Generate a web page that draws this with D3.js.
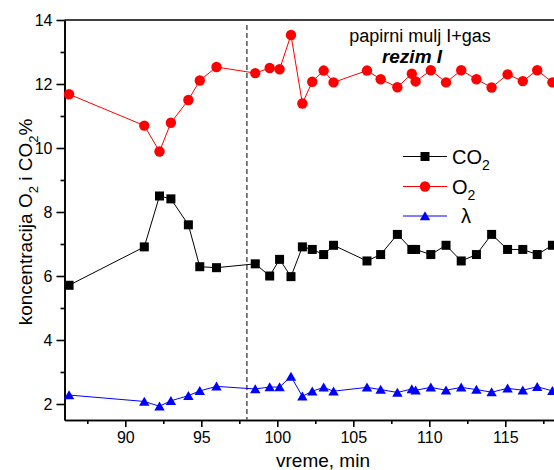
<!DOCTYPE html>
<html>
<head>
<meta charset="utf-8">
<script src="https://cdn.jsdelivr.net/npm/d3@7"></script>
<style>
  body { margin: 0; background: #fff; }
  svg { display: block; font-family: "Liberation Sans", Arial, sans-serif; }
</style>
</head>
<body>
<div class="chart"></div>
<script>
// data
const time = [86.3, 91.25, 92.25, 93.0, 94.15, 94.9, 96.0, 98.55, 99.5, 100.15, 100.9, 101.65, 102.3, 103.05, 103.7,
  105.9, 106.8, 107.9, 108.85, 109.1, 110.1, 111.1, 112.1, 113.1, 114.1, 115.15, 116.15, 117.1, 118.1];
const co2 = [5.71, 6.91, 8.50, 8.41, 7.60, 6.29, 6.26, 6.38, 6.00, 6.52, 5.98, 6.91, 6.83, 6.67, 6.96,
  6.47, 6.67, 7.30, 6.83, 6.83, 6.67, 6.96, 6.47, 6.67, 7.30, 6.83, 6.83, 6.67, 6.96];
const o2 = [11.68, 10.70, 9.89, 10.79, 11.50, 12.11, 12.53, 12.34, 12.50, 12.46, 13.53, 11.39, 12.07, 12.42, 12.05,
  12.42, 12.15, 11.90, 12.32, 12.08, 12.43, 12.05, 12.43, 12.15, 11.89, 12.30, 12.09, 12.43, 12.05];
const lambda = [2.28, 2.08, 1.93, 2.10, 2.26, 2.41, 2.55, 2.47, 2.53, 2.53, 2.86, 2.24, 2.40, 2.52, 2.40,
  2.52, 2.45, 2.36, 2.47, 2.43, 2.52, 2.43, 2.52, 2.45, 2.37, 2.49, 2.43, 2.54, 2.41];
const xMajor = [90, 95, 100, 105, 110, 115];
const xMinor = [87.5, 92.5, 97.5, 102.5, 107.5, 112.5, 117.5];
const yMajor = [2, 4, 6, 8, 10, 12, 14];
const yMinor = [3, 5, 7, 9, 11, 13];
const regimeStart = 98;

const width = 554, height = 470;
const margin = { left: 64.5, top: 20, bottom: 420 };

const svg = d3.select(".chart")
  .append("svg")
  .attr("width", width)
  .attr("height", height);

const xScale = d3.scaleLinear().domain([86, 120]).range([margin.left, margin.left + 34 * 15.2]);
const yScale = d3.scaleLinear().domain([1.5, 14]).range([margin.bottom, margin.top]);

// axes
const xAxis = d3.axisBottom(xScale).tickValues(xMajor).tickSize(7).tickSizeOuter(0).tickPadding(5);
const xAxisMinor = d3.axisBottom(xScale).tickValues(xMinor).tickSize(4).tickSizeOuter(0).tickFormat("");
const yAxis = d3.axisLeft(yScale).tickValues(yMajor).tickSize(8).tickSizeOuter(0).tickPadding(4);
const yAxisMinor = d3.axisLeft(yScale).tickValues(yMinor).tickSize(4).tickSizeOuter(0).tickFormat("");

svg.append("g").attr("class", "axis").attr("transform", `translate(0,${margin.bottom})`).call(xAxisMinor);
svg.append("g").attr("class", "axis").attr("transform", `translate(0,${margin.bottom})`).call(xAxis);
svg.append("g").attr("class", "axis").attr("transform", `translate(${margin.left},0)`).call(yAxisMinor);
svg.append("g").attr("class", "axis").attr("transform", `translate(${margin.left},0)`).call(yAxis);

svg.selectAll(".axis path, .axis line").attr("stroke", "#000").attr("stroke-width", 1.6);
svg.selectAll(".axis text").attr("font-size", 16).attr("fill", "#000")
  .attr("font-family", "Liberation Sans, Arial, sans-serif");

// top frame line
svg.append("line")
  .attr("x1", margin.left).attr("x2", xScale(120))
  .attr("y1", margin.top).attr("y2", margin.top)
  .attr("stroke", "#000").attr("stroke-width", 1.6);

// regime marker
svg.append("line")
  .attr("x1", xScale(regimeStart)).attr("x2", xScale(regimeStart))
  .attr("y1", margin.top + 5).attr("y2", margin.bottom)
  .attr("stroke", "#555").attr("stroke-width", 1.5)
  .attr("stroke-dasharray", "5,3");

const triangle = "M0,-4.8L5.2,4.2L-5.2,4.2Z";

const series = [
  { name: "CO2", values: co2, color: "#000", shape: "square" },
  { name: "O2", values: o2, color: "#ff0000", shape: "circle" },
  { name: "lambda", values: lambda, color: "#0000ff", shape: "triangle" }
];

function drawMarker(g, shape, color) {
  if (shape === "square") {
    g.append("rect").attr("x", -4.5).attr("y", -4.5).attr("width", 9).attr("height", 9).attr("fill", color);
  } else if (shape === "circle") {
    g.append("circle").attr("r", 5.2).attr("fill", color);
  } else {
    g.append("path").attr("d", triangle).attr("fill", color);
  }
}

const line = d3.line()
  .x(d => xScale(d[0]))
  .y(d => yScale(d[1]));

series.forEach(s => {
  const pts = time.map((t, i) => [t, s.values[i]]);
  svg.append("path")
    .datum(pts)
    .attr("d", line)
    .attr("fill", "none")
    .attr("stroke", s.color)
    .attr("stroke-width", 1);
  svg.append("g").selectAll("g")
    .data(pts)
    .join("g")
    .attr("transform", d => `translate(${xScale(d[0])},${yScale(d[1])})`)
    .each(function() { drawMarker(d3.select(this), s.shape, s.color); });
});

// legend
const legend = svg.append("g").attr("transform", "translate(403,0)");
const legendRows = [156.5, 186.5, 216];
series.forEach((s, i) => {
  const row = legend.append("g").attr("transform", `translate(0,${legendRows[i]})`);
  row.append("line").attr("x1", 0).attr("x2", 44).attr("stroke", s.color).attr("stroke-width", 1);
  const m = row.append("g").attr("transform", "translate(22,0)");
  drawMarker(m, s.shape, s.color);
});
const lt = legend.append("g").attr("font-size", 20).attr("fill", "#000");
const t1 = lt.append("text").attr("x", 49).attr("y", legendRows[0] + 7);
t1.append("tspan").text("CO");
t1.append("tspan").attr("font-size", 14).attr("dy", 6).text("2");
const t2 = lt.append("text").attr("x", 49).attr("y", legendRows[1] + 7);
t2.append("tspan").text("O");
t2.append("tspan").attr("font-size", 14).attr("dy", 6).text("2");
lt.append("text").attr("x", 58).attr("y", legendRows[2] + 7).text("λ");

// annotation
svg.append("text")
  .attr("x", 420).attr("y", 42)
  .attr("text-anchor", "middle")
  .attr("font-size", 18)
  .text("papirni mulj I+gas");
svg.append("text")
  .attr("x", 412).attr("y", 62.5)
  .attr("text-anchor", "middle")
  .attr("font-size", 19)
  .attr("font-weight", "bold")
  .attr("font-style", "italic")
  .text("rezim I");

// axis titles
svg.append("text")
  .attr("x", 323).attr("y", 467)
  .attr("text-anchor", "middle")
  .attr("font-size", 19)
  .text("vreme, min");

const yTitle = svg.append("text")
  .attr("transform", "translate(32,222) rotate(-90)")
  .attr("text-anchor", "middle")
  .attr("font-size", 19);
yTitle.append("tspan").text("koncentracija O");
yTitle.append("tspan").attr("font-size", 13).attr("dy", 6).text("2");
yTitle.append("tspan").attr("dy", -6).text(" i CO");
yTitle.append("tspan").attr("font-size", 13).attr("dy", 6).text("2");
yTitle.append("tspan").attr("dy", -6).text("%");
</script>
</body>
</html>
